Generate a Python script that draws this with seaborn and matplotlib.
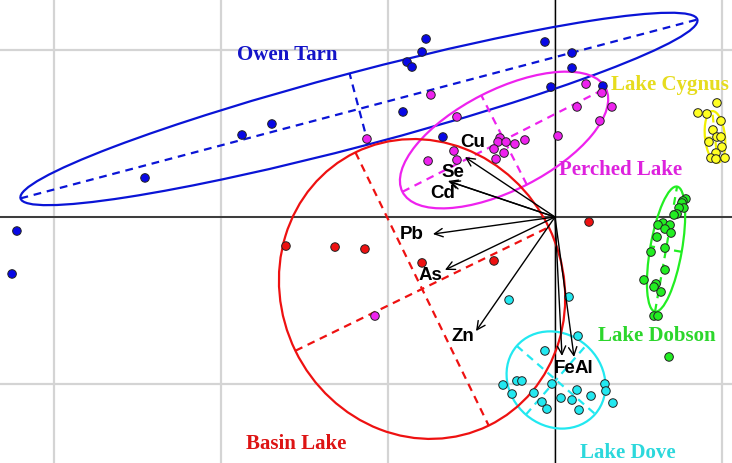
import numpy as np
import pandas as pd
import matplotlib
matplotlib.use("Agg")
import matplotlib.pyplot as plt
from matplotlib.patches import Ellipse
import seaborn as sns

# ---- site scores (PC1, PC2) for each lake ----
owen_x = [-2.455, -1.874, -1.695, -3.222, -3.251, -0.772, -0.796, -0.886, -0.856,
          -0.060, 0.102, 0.102, -0.024, 0.287, -0.910, -0.671]
owen_y = [0.234, 0.491, 0.557, -0.084, -0.341, 1.066, 0.988, 0.928, 0.898,
          1.048, 0.982, 0.892, 0.778, 0.784, 0.629, 0.479]

perched_x = [-0.743, -0.587, 0.186, 0.281, 0.132, 0.341, 0.269, 0.018, -1.126,
             -0.329, -0.341, -0.293, -0.240, -0.180, -0.365, -0.305, -0.353,
             -0.605, -0.587, -0.760, -1.078]
perched_y = [0.731, 0.599, 0.796, 0.743, 0.659, 0.659, 0.575, 0.485, 0.467,
             0.473, 0.449, 0.449, 0.437, 0.461, 0.407, 0.383, 0.347,
             0.395, 0.341, 0.335, -0.593]

cygnus_x = [0.970, 0.856, 0.910, 0.994, 0.946, 0.970, 0.994, 0.922, 1.000,
            0.964, 0.934, 0.964, 1.018]
cygnus_y = [0.683, 0.623, 0.617, 0.575, 0.521, 0.479, 0.479, 0.449, 0.419,
            0.383, 0.353, 0.347, 0.353]

dobson_x = [0.784, 0.766, 0.760, 0.772, 0.743, 0.731, 0.713, 0.647, 0.617, 0.689,
            0.659, 0.695, 0.611, 0.659, 0.575, 0.659, 0.533, 0.605, 0.593, 0.635,
            0.593, 0.617, 0.683]
dobson_y = [0.108, 0.096, 0.084, 0.054, 0.054, 0.018, 0.012, -0.036, -0.048, -0.048,
            -0.072, -0.096, -0.120, -0.186, -0.210, -0.317, -0.377, -0.401, -0.419,
            -0.449, -0.593, -0.593, -0.838]

dove_x = [-0.275, 0.084, 0.138, -0.060, -0.311, -0.228, -0.198, -0.018, -0.257,
          -0.126, -0.078, -0.048, 0.036, 0.102, 0.132, 0.144, 0.216, 0.299, 0.305, 0.347]
dove_y = [-0.497, -0.479, -0.713, -0.802, -1.006, -0.982, -0.982, -1.000, -1.060,
          -1.054, -1.108, -1.150, -1.084, -1.096, -1.036, -1.156, -1.072, -1.000,
          -1.042, -1.114]

basin_x = [-1.611, -1.317, -1.138, -0.796, -0.365, 0.204]
basin_y = [-0.174, -0.180, -0.192, -0.275, -0.263, -0.030]

lakes = ["Owen Tarn", "Perched Lake", "Lake Cygnus", "Lake Dobson", "Lake Dove", "Basin Lake"]

# ---- group ellipses: centre, semi-axes and rotation (degrees) ----
ell_cx = [-1.174, -0.305, 0.958, 0.665, 0.006, -0.796]
ell_cy = [0.647, 0.461, 0.479, -0.192, -0.976, -0.431]
ell_a = [2.096, 0.683, 0.156, 0.380, 0.311, 0.910]
ell_b = [0.220, 0.300, 0.060, 0.095, 0.275, 0.844]
ell_ang = [14.8, 27.0, 96.0, 80.0, -41.0, -64.0]

# ---- element loadings ----
elements = ["Cu", "Se", "Cd", "Pb", "As", "Zn", "Fe", "Al"]
load_x = [-0.539, -0.641, -0.629, -0.731, -0.659, -0.473, 0.042, 0.114]
load_y = [0.359, 0.216, 0.211, -0.102, -0.317, -0.683, -0.832, -0.838]

# ---- label placement ----
elem_lab_x = [-0.491, -0.611, -0.671, -0.856, -0.743, -0.551, 0.058, 0.176]
elem_lab_y = [0.450, 0.270, 0.145, -0.100, -0.345, -0.712, -0.902, -0.902]
lake_lab_x = [-1.605, 0.395, 0.689, 0.611, 0.437, -1.551]
lake_lab_y = [0.976, 0.287, 0.796, -0.707, -1.407, -1.353]

point_cols = ["#0808E6", "#EE22EE", "#FFFF22", "#22EE22", "#22E8F0", "#EE1111"]
line_cols = ["#0A14D6", "#EE22EE", "#F2F000", "#22EE22", "#22E8F0", "#EE1111"]
text_cols = ["#1414C8", "#DD22DD", "#E6DC1E", "#2CD62C", "#2CD8DC", "#DD1414"]

xs = [owen_x, perched_x, cygnus_x, dobson_x, dove_x, basin_x]
ys = [owen_y, perched_y, cygnus_y, dobson_y, dove_y, basin_y]
scores = pd.concat(
    [pd.DataFrame({"PC1": x, "PC2": y, "lake": name}) for x, y, name in zip(xs, ys, lakes)],
    ignore_index=True,
)

sns.set_style("whitegrid", {"grid.color": "#d4d4d4", "axes.edgecolor": "white"})

fig = plt.figure(figsize=(7.32, 4.64), dpi=100)
ax = fig.add_axes([0, 0, 1, 1])

# grid and origin lines
ax.set_xticks([-3, -2, -1, 0, 1])
ax.set_yticks([-1, 0, 1])
ax.set_xticklabels([])
ax.set_yticklabels([])
ax.tick_params(length=0)
ax.grid(True, lw=1.6, color="#d4d4d4", zorder=0)
ax.set_axisbelow(True)
ax.axhline(0, color="#3a3a3a", lw=1.4, zorder=1)
ax.axvline(0, color="black", lw=1.0, zorder=1)
for s in ax.spines.values():
    s.set_visible(False)

# confidence ellipses with their principal axes
for cx, cy, a, b, ang, col in zip(ell_cx, ell_cy, ell_a, ell_b, ell_ang, line_cols):
    ax.add_patch(Ellipse((cx, cy), 2 * a, 2 * b, angle=ang, fill=False,
                         edgecolor=col, lw=1.6, zorder=2))
    t = np.radians(ang)
    u = np.array([np.cos(t), np.sin(t)])
    v = np.array([-np.sin(t), np.cos(t)])
    for vec, length in ((u, a), (v, b)):
        p0 = np.array([cx, cy]) - vec * length
        p1 = np.array([cx, cy]) + vec * length
        ax.plot([p0[0], p1[0]], [p0[1], p1[1]], color=col, lw=1.6,
                ls=(0, (3.5, 2.6)), zorder=2)

# site scores
sns.scatterplot(data=scores, x="PC1", y="PC2", hue="lake", hue_order=lakes,
                palette=dict(zip(lakes, point_cols)), s=38, edgecolor="#222222",
                linewidth=0.7, legend=False, ax=ax, zorder=3)

# element vectors
for lx, ly in zip(load_x, load_y):
    ax.annotate("", xy=(lx, ly), xytext=(0, 0),
                arrowprops=dict(arrowstyle="->", color="black", lw=1.0,
                                mutation_scale=15, shrinkA=0, shrinkB=0),
                zorder=4)
for name, tx, ty in zip(elements, elem_lab_x, elem_lab_y):
    ax.text(tx, ty, name, ha="center", va="center", fontsize=13.5,
            fontweight="bold", family=["Liberation Sans", "DejaVu Sans"],
            color="black", zorder=5)

# lake names
for name, tx, ty, col in zip(lakes, lake_lab_x, lake_lab_y, text_cols):
    ax.text(tx, ty, name, ha="center", va="center", fontsize=15,
            fontweight="bold", family=["Liberation Serif", "DejaVu Serif"],
            color=col, zorder=5)

ax.set_xlim(-555 / 167, 177 / 167)
ax.set_ylim(-246 / 167, 218 / 167)
ax.set_xlabel("")
ax.set_ylabel("")

fig.savefig("out.png", dpi=100)
